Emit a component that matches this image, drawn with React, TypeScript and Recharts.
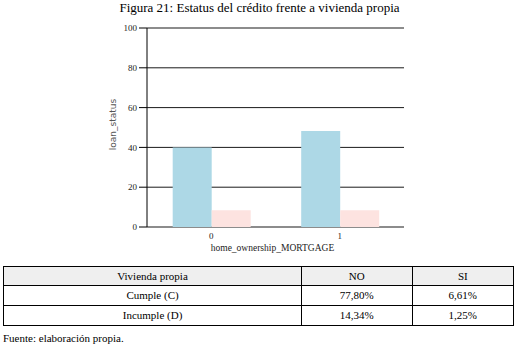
import { BarChart, Bar, XAxis, YAxis, CartesianGrid } from 'recharts'

const CATEGORIES = ['0', '1']
const CUMPLE = [40, 48.2]
const INCUMPLE = [8.4, 8.4]
const Y_TICKS = [0, 20, 40, 60, 80, 100]

const TABLE_HEAD = ['Vivienda propia', 'NO', 'SI']
const TABLE_ROWS = [
  ['Cumple (C)', '77,80%', '6,61%'],
  ['Incumple (D)', '14,34%', '1,25%'],
]

const data = CATEGORIES.map((c, i) => ({ cat: c, cumple: CUMPLE[i], incumple: INCUMPLE[i] }))
const EDGE_TICKS = CATEGORIES.map((_, i) => i).concat(CATEGORIES.length)

const serif = 'Liberation Serif'

const cell = {
  border: '1px solid #000',
  padding: 0,
  height: 18,
  lineHeight: '18px',
  textAlign: 'center' as const,
  fontSize: 11,
  fontFamily: serif,
}

export default function App() {
  return (
    <div
      style={{
        position: 'absolute',
        left: 0,
        top: 0,
        width: 519,
        height: 351,
        background: '#fff',
        fontFamily: serif,
        color: '#000',
      }}
    >
      <div style={{ position: 'absolute', top: 0, left: 0, width: 519, textAlign: 'center', fontSize: 13, lineHeight: '15px', fontFamily: serif }}>
        Figura 21: Estatus del crédito frente a vivienda propia
      </div>

      <div style={{ position: 'absolute', top: 0, left: 0 }}>
        <BarChart
          width={519}
          height={260}
          data={data}
          margin={{ top: 28, right: 115, bottom: 13, left: 0 }}
          barCategoryGap="20%"
          barGap={0}
        >
          <CartesianGrid vertical={false} stroke="#000" strokeOpacity={0.9} />
          <XAxis
            xAxisId="edge"
            type="number"
            domain={[0, CATEGORIES.length]}
            ticks={EDGE_TICKS}
            allowDataOverflow
            height={0}
            tick={false}
            axisLine={false}
            tickLine={{ stroke: '#000' }}
            tickSize={7}
          />
          <XAxis
            dataKey="cat"
            height={20}
            axisLine={false}
            tickLine={false}
            tickSize={4}
            tick={{ fontSize: 9, fill: '#222', fontFamily: serif }}
            label={{
              content: ({ viewBox }: any) => (
                <text
                  x={viewBox.x + viewBox.width / 2 - 3}
                  y={viewBox.y + viewBox.height + 4}
                  textAnchor="middle"
                  fontSize={9.5}
                  fontFamily={serif}
                  fill="#222"
                >
                  home_ownership_MORTGAGE
                </text>
              ),
            }}
          />
          <YAxis
            width={147}
            domain={[0, 100]}
            ticks={Y_TICKS}
            axisLine={{ stroke: '#000' }}
            tickLine={{ stroke: '#000' }}
            tickSize={8}
            tick={{ fontSize: 9, fill: '#222', fontFamily: serif }}
            label={{
              content: ({ viewBox }: any) => {
                const cx = viewBox.x + viewBox.width - 34
                const cy = viewBox.y + viewBox.height / 2 - 3
                return (
                  <text
                    x={cx}
                    y={cy}
                    transform={`rotate(-90 ${cx} ${cy})`}
                    textAnchor="middle"
                    dominantBaseline="central"
                    fontSize={9}
                    fontFamily="DejaVu Sans"
                    fill="#555"
                  >
                    loan_status
                  </text>
                )
              },
            }}
          />
          <Bar dataKey="cumple" fill="#add8e6" isAnimationActive={false} />
          <Bar dataKey="incumple" fill="#fde3e0" isAnimationActive={false} />
        </BarChart>
      </div>

      <table
        style={{
          position: 'absolute',
          left: 3,
          top: 266,
          width: 511,
          borderCollapse: 'collapse',
          fontFamily: serif,
        }}
      >
        <tbody>
          <tr style={{ background: '#efefef' }}>
            {TABLE_HEAD.map((h, i) => (
              <td key={h} style={{ ...cell, width: i === 0 ? 299 : i === 1 ? 110 : 101 }}>
                {h}
              </td>
            ))}
          </tr>
          {TABLE_ROWS.map((r) => (
            <tr key={r[0]}>
              {r.map((v, i) => (
                <td key={i} style={{ ...cell, height: 19, lineHeight: '19px' }}>
                  {v}
                </td>
              ))}
            </tr>
          ))}
        </tbody>
      </table>

      <div style={{ position: 'absolute', left: 3, top: 331, fontSize: 11, lineHeight: '14px', fontFamily: serif }}>
        Fuente: elaboración propia.
      </div>
    </div>
  )
}
